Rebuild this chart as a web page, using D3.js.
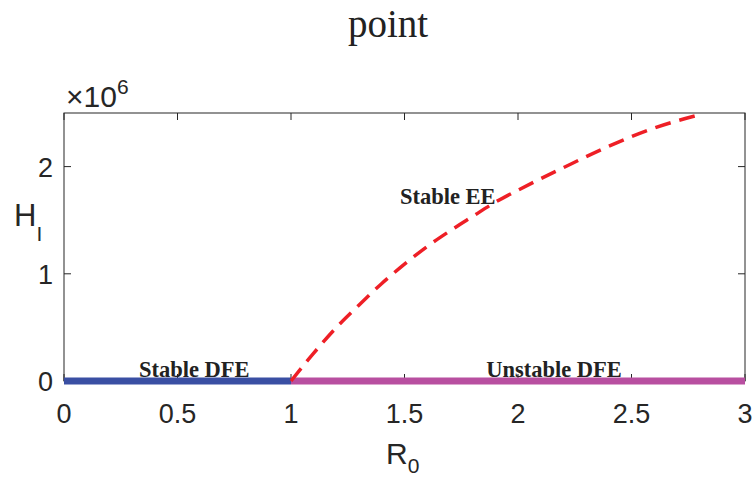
<!DOCTYPE html>
<html>
<head>
<meta charset="utf-8">
<script src="https://cdn.jsdelivr.net/npm/d3@7"></script>
<style>
  body { margin: 0; background: white; }
  svg { display: block; }
</style>
</head>
<body>
<svg id="chart"></svg>
<script>
// endemic equilibrium branch (H_I in units of 1e6)
let eeR0 = [1.0, 1.1, 1.2, 1.3, 1.4, 1.5, 1.6, 1.7, 1.8, 1.9, 2.0, 2.2, 2.4, 2.6, 2.81]
let eeH = [0, 0.26, 0.50, 0.71, 0.91, 1.09, 1.255, 1.40, 1.535, 1.668, 1.78, 1.99, 2.19, 2.36, 2.49]

// disease free equilibrium, split into stable / unstable parts
let dfeStableR0 = [0, 1]
let dfeUnstableR0 = [1, 3]

let xTicks = [0, 0.5, 1, 1.5, 2, 2.5, 3]
let yTicks = [0, 1, 2]

let labels = [
  {text: 'Stable DFE', x: 0.33, y: 0.04},
  {text: 'Unstable DFE', x: 1.86, y: 0.04},
  {text: 'Stable EE', x: 1.48, y: 1.65}
]

let width = 753, height = 481
let plotLeft = 64, plotRight = 745, plotTop = 113, plotBottom = 381

let svg = d3.select('#chart')
  .attr('width', width)
  .attr('height', height)

let x = d3.scaleLinear().domain([0, 3]).range([plotLeft, plotRight])
let y = d3.scaleLinear().domain([0, 2.5]).range([plotBottom, plotTop])

let axisColor = '#262626'

// title (cropped from the figure above)
svg.append('text')
  .attr('x', 388)
  .attr('y', 37)
  .attr('text-anchor', 'middle')
  .attr('font-family', 'Liberation Serif, serif')
  .attr('font-size', 39)
  .attr('fill', '#222')
  .text('point')

// axes box with white fill
svg.append('rect')
  .attr('x', plotLeft).attr('y', plotTop)
  .attr('width', plotRight - plotLeft).attr('height', plotBottom - plotTop)
  .attr('fill', 'white')
  .attr('stroke', axisColor)
  .attr('stroke-width', 1)

let tickLen = 7

// ticks, mirrored on all four sides, pointing inward
let ticks = svg.append('g').attr('stroke', axisColor).attr('stroke-width', 1)
xTicks.forEach(t => {
  ticks.append('line').attr('x1', x(t)).attr('x2', x(t)).attr('y1', plotBottom).attr('y2', plotBottom - tickLen)
  ticks.append('line').attr('x1', x(t)).attr('x2', x(t)).attr('y1', plotTop).attr('y2', plotTop + tickLen)
})
yTicks.forEach(t => {
  ticks.append('line').attr('x1', plotLeft).attr('x2', plotLeft + tickLen).attr('y1', y(t)).attr('y2', y(t))
  ticks.append('line').attr('x1', plotRight).attr('x2', plotRight - tickLen).attr('y1', y(t)).attr('y2', y(t))
})

// tick labels
svg.append('g').selectAll('text').data(xTicks).enter()
  .append('text')
  .attr('x', d => x(d))
  .attr('y', 423)
  .attr('text-anchor', 'middle')
  .attr('font-family', 'Liberation Sans, Arial, sans-serif')
  .attr('font-size', 27)
  .attr('fill', axisColor)
  .text(d => d)

svg.append('g').selectAll('text').data(yTicks).enter()
  .append('text')
  .attr('x', 53)
  .attr('y', d => y(d) + 10)
  .attr('text-anchor', 'end')
  .attr('font-family', 'Liberation Sans, Arial, sans-serif')
  .attr('font-size', 27)
  .attr('fill', axisColor)
  .text(d => d)

// exponent marker
let expo = svg.append('text')
  .attr('x', 66)
  .attr('y', 107)
  .attr('font-family', 'Liberation Sans, Arial, sans-serif')
  .attr('font-size', 30)
  .attr('fill', axisColor)
expo.append('tspan').text('\u00d710')
expo.append('tspan').attr('dy', -13).attr('font-size', 21).text('6')

// axis labels
let xl = svg.append('text')
  .attr('x', 386)
  .attr('y', 464)
  .attr('font-family', 'Liberation Sans, Arial, sans-serif')
  .attr('font-size', 30)
  .attr('fill', axisColor)
xl.append('tspan').text('R')
xl.append('tspan').attr('dy', 9).attr('font-size', 21).text('0')

let yl = svg.append('text')
  .attr('x', 14)
  .attr('y', 226)
  .attr('font-family', 'Liberation Sans, Arial, sans-serif')
  .attr('font-size', 31)
  .attr('fill', axisColor)
yl.append('tspan').text('H')
yl.append('tspan').attr('dy', 15).attr('font-size', 21).text('I')

// DFE lines, drawn over the bottom axis
let line = d3.line().x(d => x(d[0])).y(d => y(d[1]))

svg.append('path')
  .datum(dfeStableR0.map(r => [r, 0]))
  .attr('d', line)
  .attr('fill', 'none')
  .attr('stroke', '#3a4fa3')
  .attr('stroke-width', 7)

svg.append('path')
  .datum(dfeUnstableR0.map(r => [r, 0]))
  .attr('d', line)
  .attr('fill', 'none')
  .attr('stroke', '#b84fa0')
  .attr('stroke-width', 7)

// endemic branch
svg.append('path')
  .datum(eeR0.map((r, i) => [r, eeH[i]]))
  .attr('d', line.curve(d3.curveMonotoneX))
  .attr('fill', 'none')
  .attr('stroke', '#ee1f26')
  .attr('stroke-width', 3.5)
  .attr('stroke-dasharray', '16,9')

// region labels
svg.append('g').selectAll('text').data(labels).enter()
  .append('text')
  .attr('x', d => x(d.x))
  .attr('y', d => y(d.y))
  .attr('font-family', 'Liberation Serif, serif')
  .attr('font-weight', 'bold')
  .attr('font-size', 22.5)
  .attr('fill', '#222')
  .text(d => d.text)
</script>
</body>
</html>
